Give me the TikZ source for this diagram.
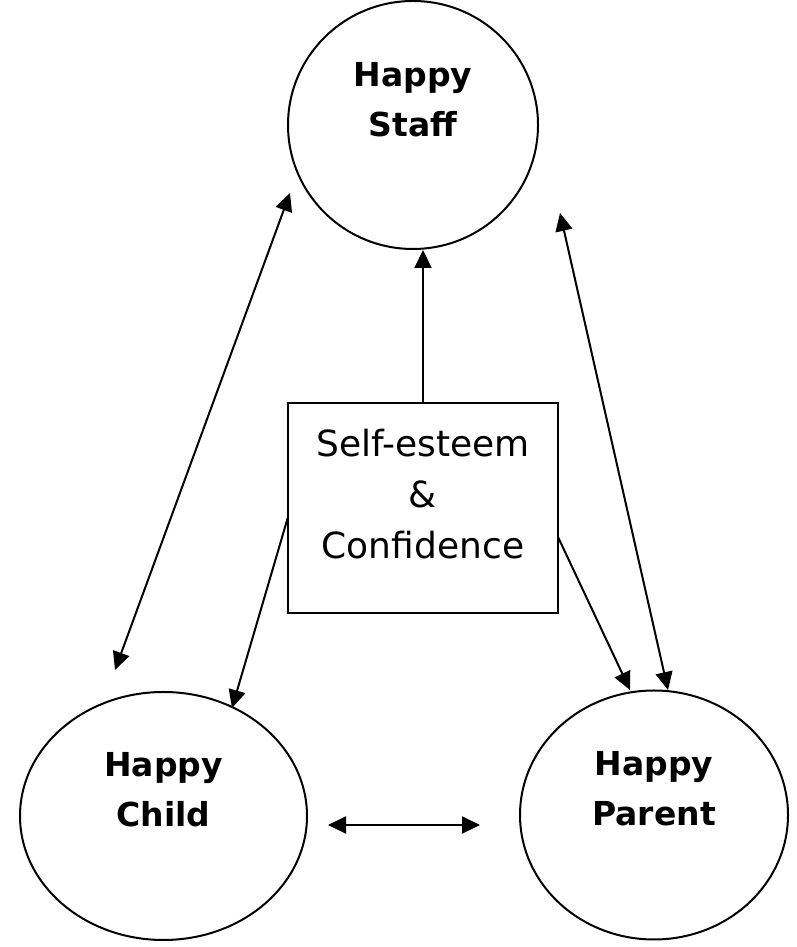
\documentclass[tikz,border=0pt]{standalone}
\usepackage{fontspec}
\setmainfont{DejaVu Sans}
\usetikzlibrary{shapes.geometric,arrows.meta,calc}
\begin{document}
\begin{tikzpicture}[x=1pt,y=1pt,
  bubble/.style={draw=black,line width=2pt,ellipse,inner sep=0pt},
  lbl/.style={align=center,font=\fontsize{33}{50}\selectfont\bfseries,inner sep=0pt},
  boxnode/.style={draw=black,line width=2.2pt,rectangle,minimum width=270pt,minimum height=210pt,inner sep=0pt},
  boxtxt/.style={align=center,font=\fontsize{36}{51}\selectfont,inner sep=0pt},
  tip/.tip={Triangle[length=18pt,width=17pt]},
  arr/.style={line width=2pt,-tip},
  darr/.style={line width=2pt,tip-tip}]
\useasboundingbox (0,0) rectangle (797,947);
% nodes
\node[bubble,minimum width=250pt,minimum height=248pt] (staff) at (413,822) {};
\node[bubble,minimum width=287pt,minimum height=248pt] (child) at (163.5,131) {};
\node[bubble,minimum width=268pt,minimum height=249pt] (parent) at (654,132) {};
\node[boxnode] (box) at (423,439) {};
\node[lbl] (staffT) at ($(staff)+(0,25)$) {Happy\\Staff};
\node[lbl] (childT) at ($(child)+(0,26)$) {Happy\\Child};
\node[lbl] (parentT) at ($(parent)+(0,26)$) {Happy\\Parent};
\node[boxtxt] (boxT) at ($(box)+(0,14)$) {Self-esteem\\\&\\Confidence};
% connector ends
\coordinate (sc) at (290,754);
\coordinate (cs) at (115,277);
\coordinate (sp) at (560,734);
\coordinate (ps) at (668,257);
\coordinate (bc) at (288,430);
\coordinate (cb) at (232,239);
\coordinate (bp) at (558,410);
\coordinate (pb) at (630,257);
\coordinate (cp) at (328,122);
\coordinate (pc) at (480,122);
% connectors
\draw[arr] (box.north) -- (box.north |- staff.south);
\draw[darr] (sc) -- (cs);
\draw[darr] (sp) -- (ps);
\draw[arr] (bc) -- (cb);
\draw[arr] (bp) -- (pb);
\draw[darr] (cp) -- (pc);
\end{tikzpicture}
\end{document}
